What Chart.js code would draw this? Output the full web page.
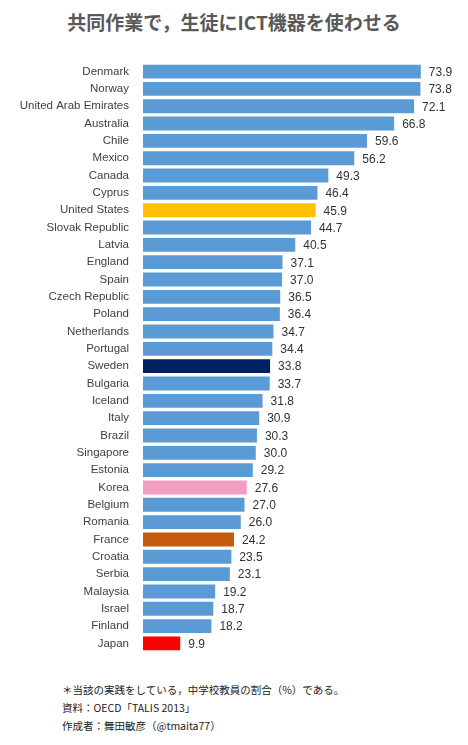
<!DOCTYPE html>
<html><head><meta charset="utf-8">
<script src="https://cdn.jsdelivr.net/npm/chart.js@4"></script>
<style>
body{margin:0;background:#fff;font-family:"Noto Sans CJK JP","Liberation Sans",sans-serif;}
#title{position:absolute;top:8px;left:0;width:468px;text-align:center;font-size:19px;font-weight:bold;color:#595959;}
#wrap{position:absolute;top:50px;left:0;width:468px;height:615px;}
#foot{position:absolute;top:681px;left:62px;font-size:10.5px;color:#222;line-height:18px;}
</style></head><body>
<div id="title">共同作業で，生徒にICT機器を使わせる</div>
<div id="wrap"><canvas id="c"></canvas></div>
<div id="foot">＊当該の実践をしている，中学校教員の割合（%）である。<br>資料：OECD「TALIS 2013」<br>作成者：舞田敏彦（@tmaita77）</div>
<script>
const categories=["Denmark","Norway","United Arab Emirates","Australia","Chile","Mexico","Canada","Cyprus","United States","Slovak Republic","Latvia","England","Spain","Czech Republic","Poland","Netherlands","Portugal","Sweden","Bulgaria","Iceland","Italy","Brazil","Singapore","Estonia","Korea","Belgium","Romania","France","Croatia","Serbia","Malaysia","Israel","Finland","Japan"];
const values=[73.9,73.8,72.1,66.8,59.6,56.2,49.3,46.4,45.9,44.7,40.5,37.1,37.0,36.5,36.4,34.7,34.4,33.8,33.7,31.8,30.9,30.3,30.0,29.2,27.6,27.0,26.0,24.2,23.5,23.1,19.2,18.7,18.2,9.9];
const highlight={"United States":"#ffc000","Sweden":"#002060","Korea":"#f19ec2","France":"#c55a11","Japan":"#ff0000"};
const colors=categories.map(c=>highlight[c]||"#5b9bd5");
const labelPlugin={id:"lbl",afterDatasetsDraw(ch){const ctx=ch.ctx;const m=ch.getDatasetMeta(0);ctx.save();ctx.font="12px 'Liberation Sans',Arial";ctx.fillStyle="#333";ctx.textBaseline="middle";m.data.forEach((b,i)=>{ctx.fillText(values[i].toFixed(1),b.x+8,b.y+1);});ctx.restore();}};
new Chart(document.getElementById("c"),{type:"bar",data:{labels:categories,datasets:[{data:values,backgroundColor:colors,barPercentage:0.8,categoryPercentage:1}]},
options:{indexAxis:"y",responsive:true,maintainAspectRatio:false,animation:false,layout:{padding:{top:0,bottom:0,right:28,left:0}},
plugins:{legend:{display:false},tooltip:{enabled:false}},
scales:{x:{display:false,min:0,max:79},y:{grid:{display:false},border:{display:false},ticks:{color:"#404040",font:{size:11.5,family:"'Liberation Sans',Arial"},padding:6},afterFit(s){s.width=143;}}}},plugins:[labelPlugin]});
</script></body></html>
